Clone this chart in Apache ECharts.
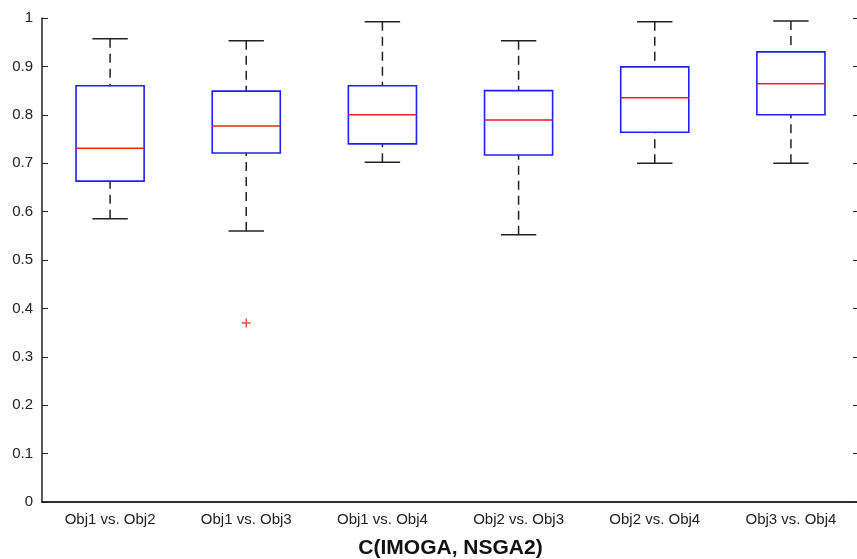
<!DOCTYPE html>
<html>
<head>
<meta charset="utf-8">
<script src="https://cdn.jsdelivr.net/npm/echarts@6/dist/echarts.min.js"></script>
<style>
  html, body { margin: 0; padding: 0; background: #fff; }
  #main { width: 857px; height: 559px; }
</style>
</head>
<body>
<div id="main"></div>
<script>
// categories and box stats
var categories = ['Obj1 vs. Obj2', 'Obj1 vs. Obj3', 'Obj1 vs. Obj4', 'Obj2 vs. Obj3', 'Obj2 vs. Obj4', 'Obj3 vs. Obj4'];
var whiskerLow = [0.585, 0.560, 0.702, 0.552, 0.700, 0.700];
var q1 = [0.663, 0.721, 0.740, 0.717, 0.764, 0.800];
var median = [0.731, 0.777, 0.800, 0.789, 0.835, 0.864];
var q3 = [0.860, 0.849, 0.860, 0.850, 0.899, 0.930];
var whiskerHigh = [0.957, 0.953, 0.992, 0.953, 0.992, 0.994];
var outliers = [[1, 0.370]];
var yTicks = [0, 0.1, 0.2, 0.3, 0.4, 0.5, 0.6, 0.7, 0.8, 0.9, 1];

var chart = echarts.init(document.getElementById('main'));

var boxData = categories.map(function (c, i) {
    return [i, whiskerLow[i], q1[i], median[i], q3[i], whiskerHigh[i]];
});

function renderBox(params, api) {
    var x = api.value(0);
    var lo = api.coord([x, api.value(1)]);
    var b1 = api.coord([x, api.value(2)]);
    var md = api.coord([x, api.value(3)]);
    var b3 = api.coord([x, api.value(4)]);
    var hi = api.coord([x, api.value(5)]);
    var band = api.size([1, 0])[0];
    var bw = band * 0.5;
    var cw = band * 0.26;
    var cx = lo[0];
    var dash = { stroke: '#222', lineWidth: 1.5, lineDash: [9, 6] };
    var solid = { stroke: '#222', lineWidth: 1.5 };
    return {
        type: 'group',
        children: [
            { type: 'line', shape: { x1: cx, y1: hi[1], x2: cx, y2: b3[1] }, style: dash },
            { type: 'line', shape: { x1: cx, y1: lo[1], x2: cx, y2: b1[1] }, style: dash },
            { type: 'line', shape: { x1: cx - cw / 2, y1: hi[1], x2: cx + cw / 2, y2: hi[1] }, style: solid },
            { type: 'line', shape: { x1: cx - cw / 2, y1: lo[1], x2: cx + cw / 2, y2: lo[1] }, style: solid },
            { type: 'rect', shape: { x: cx - bw / 2, y: b3[1], width: bw, height: b1[1] - b3[1] },
              style: { fill: '#fff', stroke: '#2020ee', lineWidth: 1.6 } },
            { type: 'line', shape: { x1: cx - bw / 2, y1: md[1], x2: cx + bw / 2, y2: md[1] },
              style: { stroke: '#ee2020', lineWidth: 1.5 } }
        ]
    };
}

var option = {
    backgroundColor: '#fff',
    animation: false,
    grid: { left: 42, top: 18, width: 817, height: 484, outerBoundsMode: 'none' },
    xAxis: [{
        type: 'category',
        data: categories,
        position: 'bottom',
        name: 'C(IMOGA, NSGA2)',
        nameLocation: 'middle',
        nameGap: 36,
        nameTextStyle: { fontFamily: 'Liberation Sans', fontSize: 21, fontWeight: 'bold', color: '#111' },
        axisLine: { lineStyle: { color: '#222', width: 1.5 } },
        axisTick: { show: false },
        axisLabel: { fontFamily: 'Liberation Sans', fontSize: 15, color: '#222', margin: 10 },
        splitLine: { show: false }
    }, {
        type: 'category',
        data: categories,
        position: 'top',
        axisLine: { lineStyle: { color: '#222', width: 1.5 } },
        axisTick: { show: false },
        axisLabel: { show: false }
    }],
    yAxis: [{
        type: 'value',
        min: 0,
        max: 1,
        interval: 0.1,
        position: 'left',
        axisLine: { show: true, lineStyle: { color: '#222', width: 1.5 } },
        axisTick: { show: true, inside: true, length: 6, lineStyle: { color: '#222' } },
        axisLabel: {
            fontFamily: 'Liberation Sans', fontSize: 15, color: '#222', margin: 9,
            formatter: function (v) {
                var t = yTicks.filter(function (k) { return Math.abs(k - v) < 1e-9; })[0];
                return t === undefined ? '' : String(t);
            }
        },
        splitLine: { show: false }
    }, {
        type: 'value',
        min: 0,
        max: 1,
        interval: 0.1,
        position: 'right',
        axisLine: { show: true, lineStyle: { color: '#222', width: 1.5 } },
        axisTick: { show: true, inside: true, length: 6, lineStyle: { color: '#222' } },
        axisLabel: { show: false },
        splitLine: { show: false }
    }],
    series: [{
        type: 'custom',
        renderItem: renderBox,
        data: boxData,
        encode: { x: 0, y: [1, 2, 3, 4, 5] }
    }, {
        type: 'scatter',
        data: outliers,
        symbol: 'path://M5,0L5,10M0,5L10,5',
        symbolSize: 9,
        itemStyle: { color: 'none', borderColor: '#ee2020', borderWidth: 1.5 }
    }]
};

chart.setOption(option);
</script>
</body>
</html>
